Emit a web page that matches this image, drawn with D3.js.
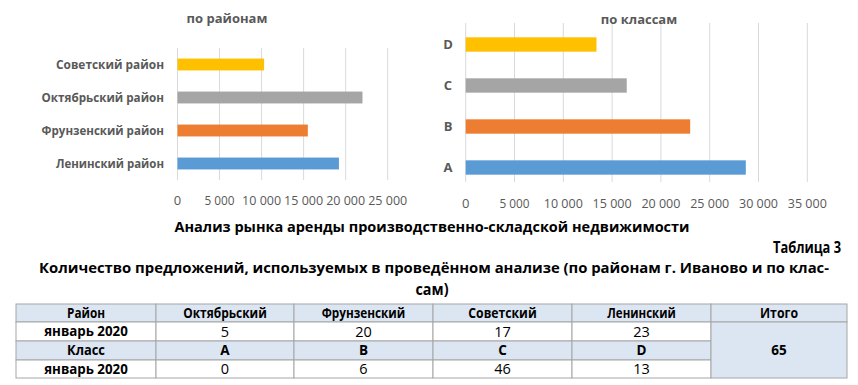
<!DOCTYPE html>
<html>
<head>
<meta charset="utf-8">
<script src="https://cdn.jsdelivr.net/npm/d3@7"></script>
<style>
  body { margin: 0; background: #fff; }
  svg { display: block; font-family: "Open Sans", "Noto Sans", sans-serif; }
</style>
</head>
<body>
<svg id="chart" width="858" height="385"></svg>
<script>
// district chart
const districts = ["Ленинский район", "Фрунзенский район", "Октябрьский район", "Советский район"];
const districtValues = [19200, 15500, 22000, 10300];
const districtTicks = [0, 5000, 10000, 15000, 20000, 25000];

// class chart
const classes = ["A", "B", "C", "D"];
const classValues = [28700, 23000, 16500, 13400];
const classTicks = [0, 5000, 10000, 15000, 20000, 25000, 30000, 35000];

const barColors = ["#5b9bd5", "#ed7d31", "#a5a5a5", "#ffc000"];

// table
const tableHeader = ["Район", "Октябрьский", "Фрунзенский", "Советский", "Ленинский", "Итого"];
const districtCounts = ["январь 2020", "5", "20", "17", "23"];
const classHeader = ["Класс", "A", "B", "C", "D"];
const classCounts = ["январь 2020", "0", "6", "46", "13"];
const total = "65";

const svg = d3.select("#chart");
const fmt = d => d3.format(",")(d).replace(/,/g, " ");

function barChart(opt) {
  const g = svg.append("g");
  const x = d3.scaleLinear().domain(opt.domain).range(opt.xRange);
  const y = d3.scaleBand().domain(opt.cats).range(opt.yRange)
    .paddingInner(opt.pad).paddingOuter(opt.pad / 2);

  g.selectAll("line.grid").data(opt.ticks).enter().append("line")
    .attr("x1", d => x(d)).attr("x2", d => x(d))
    .attr("y1", opt.gridY[0]).attr("y2", opt.gridY[1])
    .attr("stroke", "#d9d9d9").attr("stroke-width", 1);

  g.selectAll("rect").data(opt.values).enter().append("rect")
    .attr("x", x(0))
    .attr("y", (d, i) => y(opt.cats[i]))
    .attr("width", d => x(d) - x(0))
    .attr("height", y.bandwidth())
    .attr("fill", (d, i) => barColors[i]);

  g.selectAll("text.cat").data(opt.cats).enter().append("text")
    .attr("x", opt.catX).attr("y", d => y(d) + y.bandwidth() / 2)
    .attr("dy", "0.35em").attr("text-anchor", opt.catAnchor)
    .attr("font-size", 13).attr("font-weight", "bold").attr("fill", "#595959")
    .attr("textLength", d => d.length > 1 ? d.length * 7.2 : null)
    .attr("lengthAdjust", "spacingAndGlyphs")
    .text(d => d);

  g.selectAll("text.tick").data(opt.ticks).enter().append("text")
    .attr("x", d => x(d)).attr("y", opt.tickY)
    .attr("dy", "0.35em").attr("text-anchor", "middle")
    .attr("font-size", 13).attr("fill", "#595959")
    .attr("textLength", d => d === 0 ? null : (d >= 10000 ? 39 : 30))
    .attr("lengthAdjust", "spacingAndGlyphs")
    .text(fmt);

  g.append("text")
    .attr("x", opt.titleX).attr("y", opt.titleY).attr("dy", "0.35em")
    .attr("text-anchor", "middle").attr("font-size", 13)
    .attr("font-weight", "bold").attr("fill", "#595959")
    .text(opt.title);
}

barChart({
  cats: districts, values: districtValues, ticks: districtTicks,
  domain: [0, 25000], xRange: [177.5, 387.7], yRange: [180, 48], pad: 0.64,
  gridY: [48, 180], catX: 164, catAnchor: "end", tickY: 200,
  title: "по районам", titleX: 227, titleY: 18
});

barChart({
  cats: classes, values: classValues, ticks: classTicks,
  domain: [0, 35000], xRange: [465.7, 807.3], yRange: [188, 24], pad: 0.65,
  gridY: [23, 182], catX: 448, catAnchor: "middle", tickY: 203,
  title: "по классам", titleX: 639, titleY: 19
});

// headings
const heads = svg.append("g").attr("font-weight", "bold").attr("fill", "#000");
heads.append("text").attr("x", 432).attr("y", 227).attr("dy", "0.35em")
  .attr("text-anchor", "middle").attr("font-size", 15)
  .attr("textLength", 515).attr("lengthAdjust", "spacingAndGlyphs")
  .text("Анализ рынка аренды производственно-складской недвижимости");
heads.append("text").attr("x", 841).attr("y", 248).attr("dy", "0.35em")
  .attr("text-anchor", "end").attr("font-size", 15.5)
  .attr("textLength", 68).attr("lengthAdjust", "spacingAndGlyphs")
  .text("Таблица 3");
heads.append("text").attr("x", 434).attr("y", 268).attr("dy", "0.35em")
  .attr("text-anchor", "middle").attr("font-size", 14.5)
  .attr("textLength", 790).attr("lengthAdjust", "spacingAndGlyphs")
  .text("Количество предложений, используемых в проведённом анализе (по районам г. Иваново и по клас-");
heads.append("text").attr("x", 432).attr("y", 290).attr("dy", "0.35em")
  .attr("text-anchor", "middle").attr("font-size", 15.5)
  .attr("textLength", 33).attr("lengthAdjust", "spacingAndGlyphs")
  .text("сам)");

// table grid
const colX = [16, 156, 294, 433, 572, 711, 847];
const rowY = [304, 322, 341, 360, 378];
const tbl = svg.append("g");
const fillBlue = "#dce6f2";

const rows = [
  { cells: tableHeader, fill: fillBlue, bold: [true, true, true, true, true, true] },
  { cells: districtCounts, fill: "#fff", bold: [true, false, false, false, false] },
  { cells: classHeader, fill: fillBlue, bold: [true, true, true, true, true] },
  { cells: classCounts, fill: "#fff", bold: [true, false, false, false, false] }
];

rows.forEach((r, ri) => {
  r.cells.forEach((c, ci) => {
    tbl.append("rect")
      .attr("x", colX[ci]).attr("y", rowY[ri])
      .attr("width", colX[ci + 1] - colX[ci]).attr("height", rowY[ri + 1] - rowY[ri])
      .attr("fill", r.fill).attr("stroke", "#a6a6a6").attr("stroke-width", 1);
    tbl.append("text")
      .attr("x", (colX[ci] + colX[ci + 1]) / 2)
      .attr("y", (rowY[ri] + rowY[ri + 1]) / 2).attr("dy", "0.35em")
      .attr("text-anchor", "middle")
      .attr("font-size", r.bold[ci] ? 13.5 : 14.5)
      .attr("font-weight", r.bold[ci] ? "bold" : "normal").attr("fill", "#000")
      .attr("textLength", r.bold[ci] && c.length > 4 ? c.length * 7.6 : null)
      .attr("lengthAdjust", "spacingAndGlyphs")
      .text(c);
  });
});

// merged total cell
tbl.append("rect")
  .attr("x", colX[5]).attr("y", rowY[1])
  .attr("width", colX[6] - colX[5]).attr("height", rowY[4] - rowY[1])
  .attr("fill", fillBlue).attr("stroke", "#a6a6a6").attr("stroke-width", 1);
tbl.append("text")
  .attr("x", (colX[5] + colX[6]) / 2).attr("y", (rowY[1] + rowY[4]) / 2).attr("dy", "0.35em")
  .attr("text-anchor", "middle").attr("font-size", 13.5).attr("font-weight", "bold")
  .text(total);
</script>
</body>
</html>
